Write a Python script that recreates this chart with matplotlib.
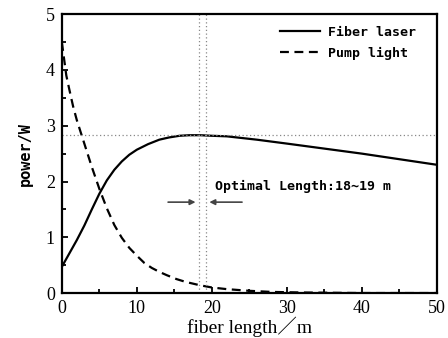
import matplotlib

matplotlib.use("Agg")
import matplotlib.pyplot as plt
from matplotlib.ticker import MultipleLocator

# values
fiber_x = [0, 1, 2, 3, 4, 5, 6, 7, 8, 9, 10, 11.5, 13, 14.3, 15.7, 17, 18.5,
           20, 22, 24, 26, 30, 35, 40, 45, 50]
fiber_y = [0.47, 0.71, 0.95, 1.21, 1.50, 1.78, 2.02, 2.21, 2.36, 2.48, 2.57,
           2.67, 2.75, 2.79, 2.82, 2.83, 2.83, 2.82, 2.81, 2.78, 2.75, 2.68,
           2.59, 2.50, 2.40, 2.30]

pump_x = [0, 0.3, 0.6, 1, 1.5, 2, 3, 4, 5, 6, 7, 8, 9, 10, 11, 12, 13, 14,
          15.3, 16.5, 18.4, 20, 22, 25, 28, 32, 36, 40, 50]
pump_y = [4.5, 4.2, 3.9, 3.65, 3.35, 3.1, 2.68, 2.26, 1.87, 1.52, 1.22, 0.99,
          0.81, 0.67, 0.54, 0.45, 0.38, 0.32, 0.25, 0.20, 0.14, 0.10, 0.07,
          0.04, 0.02, 0.01, 0.005, 0.0, 0.0]

peak_power = 2.83
optimal_lo, optimal_hi = 18.3, 19.2
arrow_y = 1.63
arrow_left_start, arrow_right_start = 13.8, 24.4

MONO = "DejaVu Sans Mono"
SERIF = ["Liberation Serif", "Noto Sans CJK SC"]

fig = plt.figure(figsize=(4.48, 3.38), dpi=100)
ax = fig.add_axes([0.138, 0.133, 0.837, 0.825])

ax.plot(fiber_x, fiber_y, color="black", lw=1.6, label="Fiber laser")
ax.plot(pump_x, pump_y, color="black", lw=1.6, dashes=(4, 2.5), label="Pump light")

# guide lines at the optimum
ax.axhline(peak_power, color="#888888", lw=0.9, ls=(0, (1, 2)))
ax.axvline(optimal_lo, color="#888888", lw=0.9, ls=(0, (1, 2)))
ax.axvline(optimal_hi, color="#888888", lw=0.9, ls=(0, (1, 2)))

arrow_kw = dict(arrowstyle="-|>", color="#444444", lw=1.2, mutation_scale=8)
ax.annotate("", xy=(optimal_lo - 0.1, arrow_y), xytext=(arrow_left_start, arrow_y),
            arrowprops=arrow_kw)
ax.annotate("", xy=(optimal_hi + 0.1, arrow_y), xytext=(arrow_right_start, arrow_y),
            arrowprops=arrow_kw)
ax.text(20.4, 1.92, "Optimal Length:18~19 m", family=MONO, fontweight="bold",
        fontsize=9.5, va="center", ha="left")

ax.set_xlim(0, 50)
ax.set_ylim(0, 5)
ax.xaxis.set_major_locator(MultipleLocator(10))
ax.xaxis.set_minor_locator(MultipleLocator(5))
ax.yaxis.set_major_locator(MultipleLocator(1))
ax.yaxis.set_minor_locator(MultipleLocator(0.5))
ax.tick_params(which="both", direction="in", top=False, right=False, width=1.3)
ax.tick_params(which="major", length=4, labelsize=13, pad=5)
ax.tick_params(which="minor", length=3)
for lab in ax.get_xticklabels() + ax.get_yticklabels():
    lab.set_family(SERIF)
for sp in ax.spines.values():
    sp.set_linewidth(1.6)

ax.set_xlabel("fiber length／m", family=SERIF, fontsize=14, labelpad=0)
ax.set_ylabel("power/W", family=MONO, fontweight="bold", fontsize=11, labelpad=9)

ax.legend(loc="upper right", frameon=False, prop={"family": MONO, "weight": "bold",
          "size": 9.5}, handlelength=3.0, handletextpad=0.6, labelspacing=0.6,
          borderaxespad=0.5, bbox_to_anchor=(0.975, 1.0))

fig.savefig("out.png", dpi=100)
